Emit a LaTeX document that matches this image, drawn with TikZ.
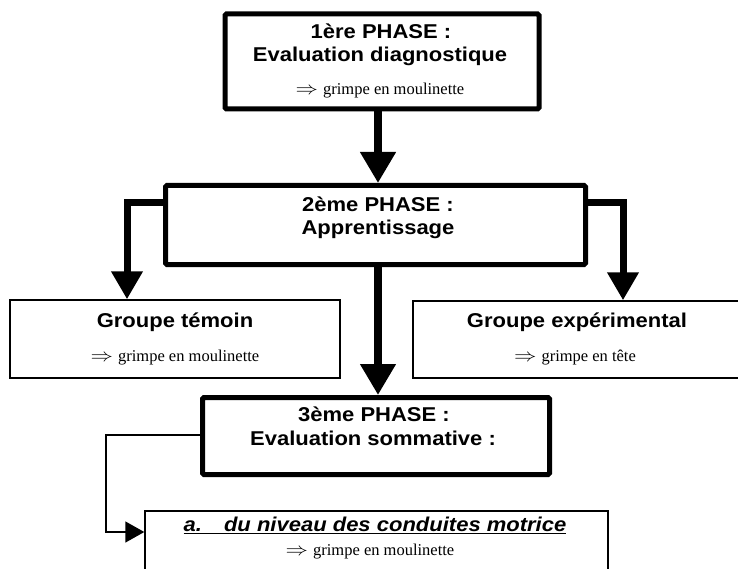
\documentclass[tikz,border=0pt]{standalone}
\usepackage{fontspec}
\setmainfont{Liberation Serif}
\newfontfamily\headfont{Liberation Sans}[FakeStretch=1.1]
\usetikzlibrary{arrows.meta}
\newcommand{\imp}{\scalebox{1.3}[1.05]{$\Rightarrow$}\hspace{0.3em}}
\begin{document}
\begin{tikzpicture}[x=1pt,y=-1pt,
  phasebox/.style={draw,line width=5pt,rounded corners=1.5pt,inner sep=0pt},
  groupbox/.style={draw,line width=1.4pt,inner sep=0pt},
  head/.style={font=\headfont\bfseries\fontsize{20}{22}\selectfont,inner sep=0pt,anchor=base},
  note/.style={font=\fontsize{16.5}{18}\selectfont,inner sep=0pt,anchor=base},
  bigflow/.style={line width=7.5pt,-{Triangle[width=34pt,length=31pt]}},
  sideflow/.style={line width=7pt,-{Triangle[width=30pt,length=28pt]}},
  thinflow/.style={line width=1.4pt,-{Triangle[width=21pt,length=19pt]}}]
\useasboundingbox (0,0) rectangle (738,569);
\fill[white] (0,0) rectangle (738,569);
\clip (0,0) rectangle (738,569);

% phase boxes
\node[phasebox,minimum width=314pt,minimum height=95pt] (p1) at (382,61.5) {};
\node[phasebox,minimum width=420pt,minimum height=79pt] (p2) at (375.5,225) {};
\node[phasebox,minimum width=347pt,minimum height=77pt] (p3) at (376,436) {};

% group boxes
\node[groupbox,minimum width=330pt,minimum height=78pt] (gt) at (175,339) {};
\node[groupbox,minimum width=347pt,minimum height=77pt] (ge) at (586.5,339.5) {};
\node[groupbox,minimum width=463pt,minimum height=100pt] (ev) at (376.5,561) {};

% texts
\node[head] (t1a) at (381,39) {1ère PHASE :};
\node[head] (t1b) at (380,61.7) {Evaluation diagnostique};
\node[note] (t1c) at (380,95) {\imp grimpe en moulinette};
\node[head] (t2a) at (378,211.7) {2ème PHASE :};
\node[head] (t2b) at (378,235) {Apprentissage};
\node[head] (tga) at (175,327.3) {Groupe témoin};
\node[note] (tgb) at (175,361) {\imp grimpe en moulinette};
\node[head] (tea) at (577,327.3) {Groupe expérimental};
\node[note] (teb) at (575,361) {\imp grimpe en tête};
\node[head] (t3a) at (374,421.7) {3ème PHASE :};
\node[head] (t3b) at (373,445) {Evaluation sommative :};
\node[head,font=\headfont\bfseries\itshape\fontsize{20}{22}\selectfont] (t4a) at (375,531.7)
  {\underline{a.\hspace{1.1em}du niveau des conduites motrice}};
\node[note] (t4b) at (370,555) {\imp grimpe en moulinette};

% connector bends
\coordinate (spine) at (378,0);
\coordinate (lk) at (127,203);
\coordinate (rk) at (623,203);
\coordinate (bk) at (106,435);
\coordinate (bk2) at (106,532);

% connectors
\draw[bigflow] (p1.south -| spine) -- (p2.north -| spine);
\draw[bigflow] (p2.south -| spine) -- (p3.north -| spine);
\draw[sideflow] (p2.west |- lk) -| (gt.north -| lk);
\draw[sideflow] (p2.east |- rk) -| (ge.north -| rk);
\draw[thinflow] (p3.west |- bk) -| (bk2) -- (ev.west |- bk2);
\end{tikzpicture}
\end{document}
